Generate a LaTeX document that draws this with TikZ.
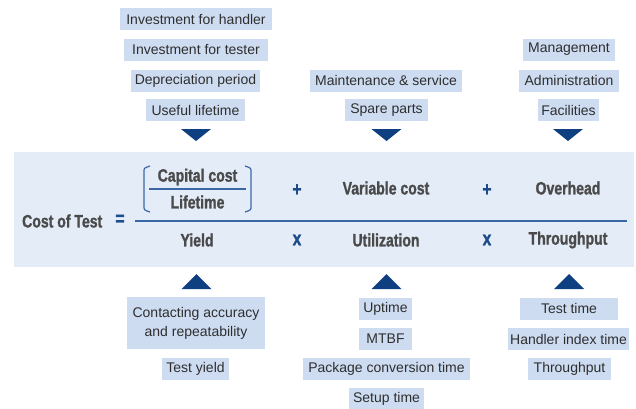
\documentclass[tikz,border=0pt]{standalone}
\usepackage{fontspec}
\usetikzlibrary{calc}
\setmainfont{Liberation Sans}
\newfontfamily\bldfont[FakeStretch=0.78, FakeBold=1.2]{Liberation Sans}
\definecolor{bandc}{HTML}{E4ECF8}
\definecolor{boxc}{HTML}{CEDCF2}
\definecolor{tric}{HTML}{0E3F80}
\definecolor{opc}{HTML}{1C4C8C}
\definecolor{linec}{HTML}{3A68A6}
\definecolor{txtc}{HTML}{2E2E2E}
\definecolor{bldc}{HTML}{4A4A4A}
\tikzset{
  lbl/.style={fill=boxc, text=txtc, font=\fontsize{14}{16}\selectfont, inner sep=0pt, align=center},
  term/.style={text=bldc, font=\bldfont\bfseries\fontsize{18}{20}\selectfont, inner sep=0pt},
  oper/.style={text=opc, font=\bldfont\bfseries\fontsize{20}{22}\selectfont, inner sep=0pt},
  tri/.style={fill=tric, draw=none},
}
\begin{document}
\begin{tikzpicture}[x=1pt, y=-1pt]
\useasboundingbox (0,0) rectangle (636,408);
% band
\fill[bandc] (14,152) rectangle (634,267);
% top boxes, column 1
\node[lbl, minimum width=152pt, minimum height=22pt] (ih) at (196,19) {Investment for handler};
\node[lbl, minimum width=144pt, minimum height=22pt] (it) at (196,49.5) {Investment for tester};
\node[lbl, minimum width=129pt, minimum height=22pt] (dp) at (195.5,80.5) {Depreciation period};
\node[lbl, minimum width=99pt, minimum height=22pt] (ul) at (195.5,110) {Useful lifetime};
% column 2
\node[lbl, minimum width=152pt, minimum height=22pt] (ms) at (386,80.5) {Maintenance \& service};
\node[lbl, minimum width=83pt, minimum height=22pt] (sp) at (386.5,110) {Spare parts};
% column 3
\node[lbl, minimum width=92pt, minimum height=22pt] (mg) at (569,49.5) {Management};
\node[lbl, minimum width=100pt, minimum height=22pt] (ad) at (569,80.5) {Administration};
\node[lbl, minimum width=61pt, minimum height=22pt] (fa) at (568.5,110) {Facilities};
% top triangles
\coordinate (t1) at (196,141);
\coordinate (t2) at (386.5,141);
\coordinate (t3) at (568,141);
\fill[tri] ($(t1)+(-15,-12)$) -- ($(t1)+(15,-12)$) -- (t1) -- cycle;
\fill[tri] ($(t2)+(-15,-12)$) -- ($(t2)+(15,-12)$) -- (t2) -- cycle;
\fill[tri] ($(t3)+(-15,-12)$) -- ($(t3)+(15,-12)$) -- (t3) -- cycle;
% bottom triangles
\coordinate (b1) at (196.5,274);
\coordinate (b2) at (386.5,274);
\coordinate (b3) at (569,274);
\fill[tri] ($(b1)+(-15,15)$) -- ($(b1)+(15,15)$) -- (b1) -- cycle;
\fill[tri] ($(b2)+(-15,15)$) -- ($(b2)+(15,15)$) -- (b2) -- cycle;
\fill[tri] ($(b3)+(-15,15)$) -- ($(b3)+(15,15)$) -- (b3) -- cycle;
% bottom boxes
\node[lbl, minimum width=138pt, minimum height=52pt, font=\fontsize{14}{19}\selectfont] (ca) at (196,323) {Contacting accuracy\\and repeatability};
\node[lbl, minimum width=67pt, minimum height=22pt] (ty) at (195.5,369) {Test yield};
\node[lbl, minimum width=53pt, minimum height=22pt] (up) at (385.5,308.5) {Uptime};
\node[lbl, minimum width=53pt, minimum height=22pt] (mt) at (385.5,339) {MTBF};
\node[lbl, minimum width=167pt, minimum height=22pt] (pc) at (386.5,369) {Package conversion time};
\node[lbl, minimum width=75pt, minimum height=22pt] (su) at (386.5,399) {Setup time};
\node[lbl, minimum width=98pt, minimum height=22pt] (tt) at (569,308.5) {Test time};
\node[lbl, minimum width=121pt, minimum height=22pt] (hi) at (568.5,339) {Handler index time};
\node[lbl, minimum width=83pt, minimum height=22pt] (tp) at (569.5,369) {Throughput};
% equation
\node[term, anchor=west] (cot) at (22,221) {Cost of Test};
\node[oper] (eq) at (120,220) {=};
\draw[linec, line width=1.5pt] (135,221) -- (627,221);
\node[term] (cc) at (197.5,177) {Capital cost};
\node[term] (lt) at (197.5,202) {Lifetime};
\draw[linec, line width=1.2pt] (149,189) -- (246,189);
\draw[linec, line width=1.2pt] (150,166) .. controls (144,168) .. (144,172) -- (144,206) .. controls (144,210) .. (150,212);
\draw[linec, line width=1.2pt] (245,166) .. controls (251,168) .. (251,172) -- (251,206) .. controls (251,210) .. (245,212);
\node[oper] (p1) at (297,190) {+};
\node[term] (vc) at (386,188) {Variable cost};
\node[oper] (p2) at (487,190) {+};
\node[term] (oh) at (568,188) {Overhead};
\node[term] (yi) at (197,240) {Yield};
\node[oper] (x1) at (297,240) {x};
\node[term] (ut) at (386,240) {Utilization};
\node[oper] (x2) at (487,240) {x};
\node[term] (th) at (568,240) {Throughput};
\end{tikzpicture}
\end{document}
